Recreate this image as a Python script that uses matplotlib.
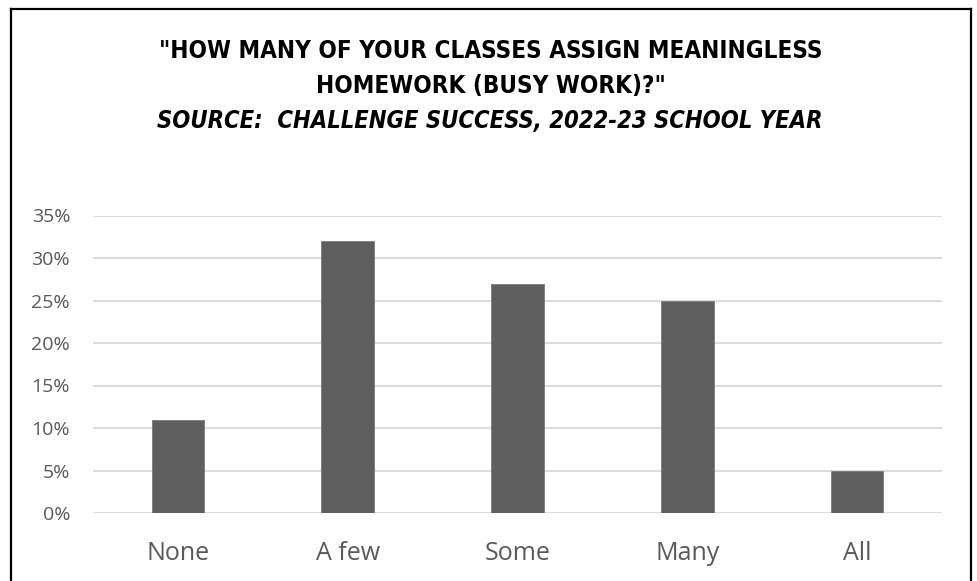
#!/usr/bin/env python3

import matplotlib
matplotlib.use("Agg")
import matplotlib.pyplot as plt
from matplotlib.ticker import FuncFormatter


categories = ["None", "A few", "Some", "Many", "All"]
values = [0.11, 0.32, 0.27, 0.25, 0.05]
y_ticks = [0, 0.05, 0.10, 0.15, 0.20, 0.25, 0.30, 0.35]

title_line1 = '"HOW MANY OF YOUR CLASSES ASSIGN MEANINGLESS'
title_line2 = 'HOMEWORK (BUSY WORK)?"'
title_line3 = "SOURCE:  CHALLENGE SUCCESS, 2022-23 SCHOOL YEAR"

body = ["Open Sans", "DejaVu Sans"]

W, H = 978, 581
fig = plt.figure(figsize=(W / 100, H / 100), dpi=100)

# outer frame (no bottom edge visible)
fig.add_artist(plt.Line2D([11 / W, 11 / W], [0, 1 - 9 / H], color="black", lw=1.6))
fig.add_artist(plt.Line2D([11 / W, 971 / W], [1 - 9 / H, 1 - 9 / H], color="black", lw=1.6))
fig.add_artist(plt.Line2D([971 / W, 971 / W], [0, 1 - 9 / H], color="black", lw=1.6))

ax = fig.add_axes([93 / W, 1 - 513 / H, 849 / W, (513 - 215.5) / H])

x = range(len(categories))
ax.bar(x, values, width=0.31, color="#5f5f5f", edgecolor="#7a7a7a", linewidth=0.6, zorder=3)

ax.set_xlim(-0.5, len(categories) - 0.5)
ax.set_ylim(0, 0.35)
ax.set_yticks(y_ticks)
ax.yaxis.set_major_formatter(FuncFormatter(lambda v, p: f"{v * 100:.0f}%"))
ax.set_xticks(list(x))
ax.set_xticklabels(categories)

ax.grid(axis="y", color="#d9d9d9", linewidth=1.3, zorder=0)
for s in ax.spines.values():
    s.set_visible(False)
ax.tick_params(axis="both", length=0, colors="#595959")
ax.tick_params(axis="y", pad=16.5, labelsize=14)
ax.tick_params(axis="x", pad=20, labelsize=18)
for lab in ax.get_yticklabels() + ax.get_xticklabels():
    lab.set_family(body)

# title block, three lines placed on their baselines
tkw = dict(ha="center", va="baseline", fontweight="bold",
           family="DejaVu Sans", fontstretch="condensed")
fig.text(0.502, 1 - 57.5 / H, title_line1, fontsize=17.4, **tkw)
fig.text(0.502, 1 - 92.5 / H, title_line2, fontsize=17.4, **tkw)
fig.text(0.501, 1 - 128 / H, title_line3, fontsize=17, style="italic", **tkw)

fig.savefig("out.png", dpi=100)
